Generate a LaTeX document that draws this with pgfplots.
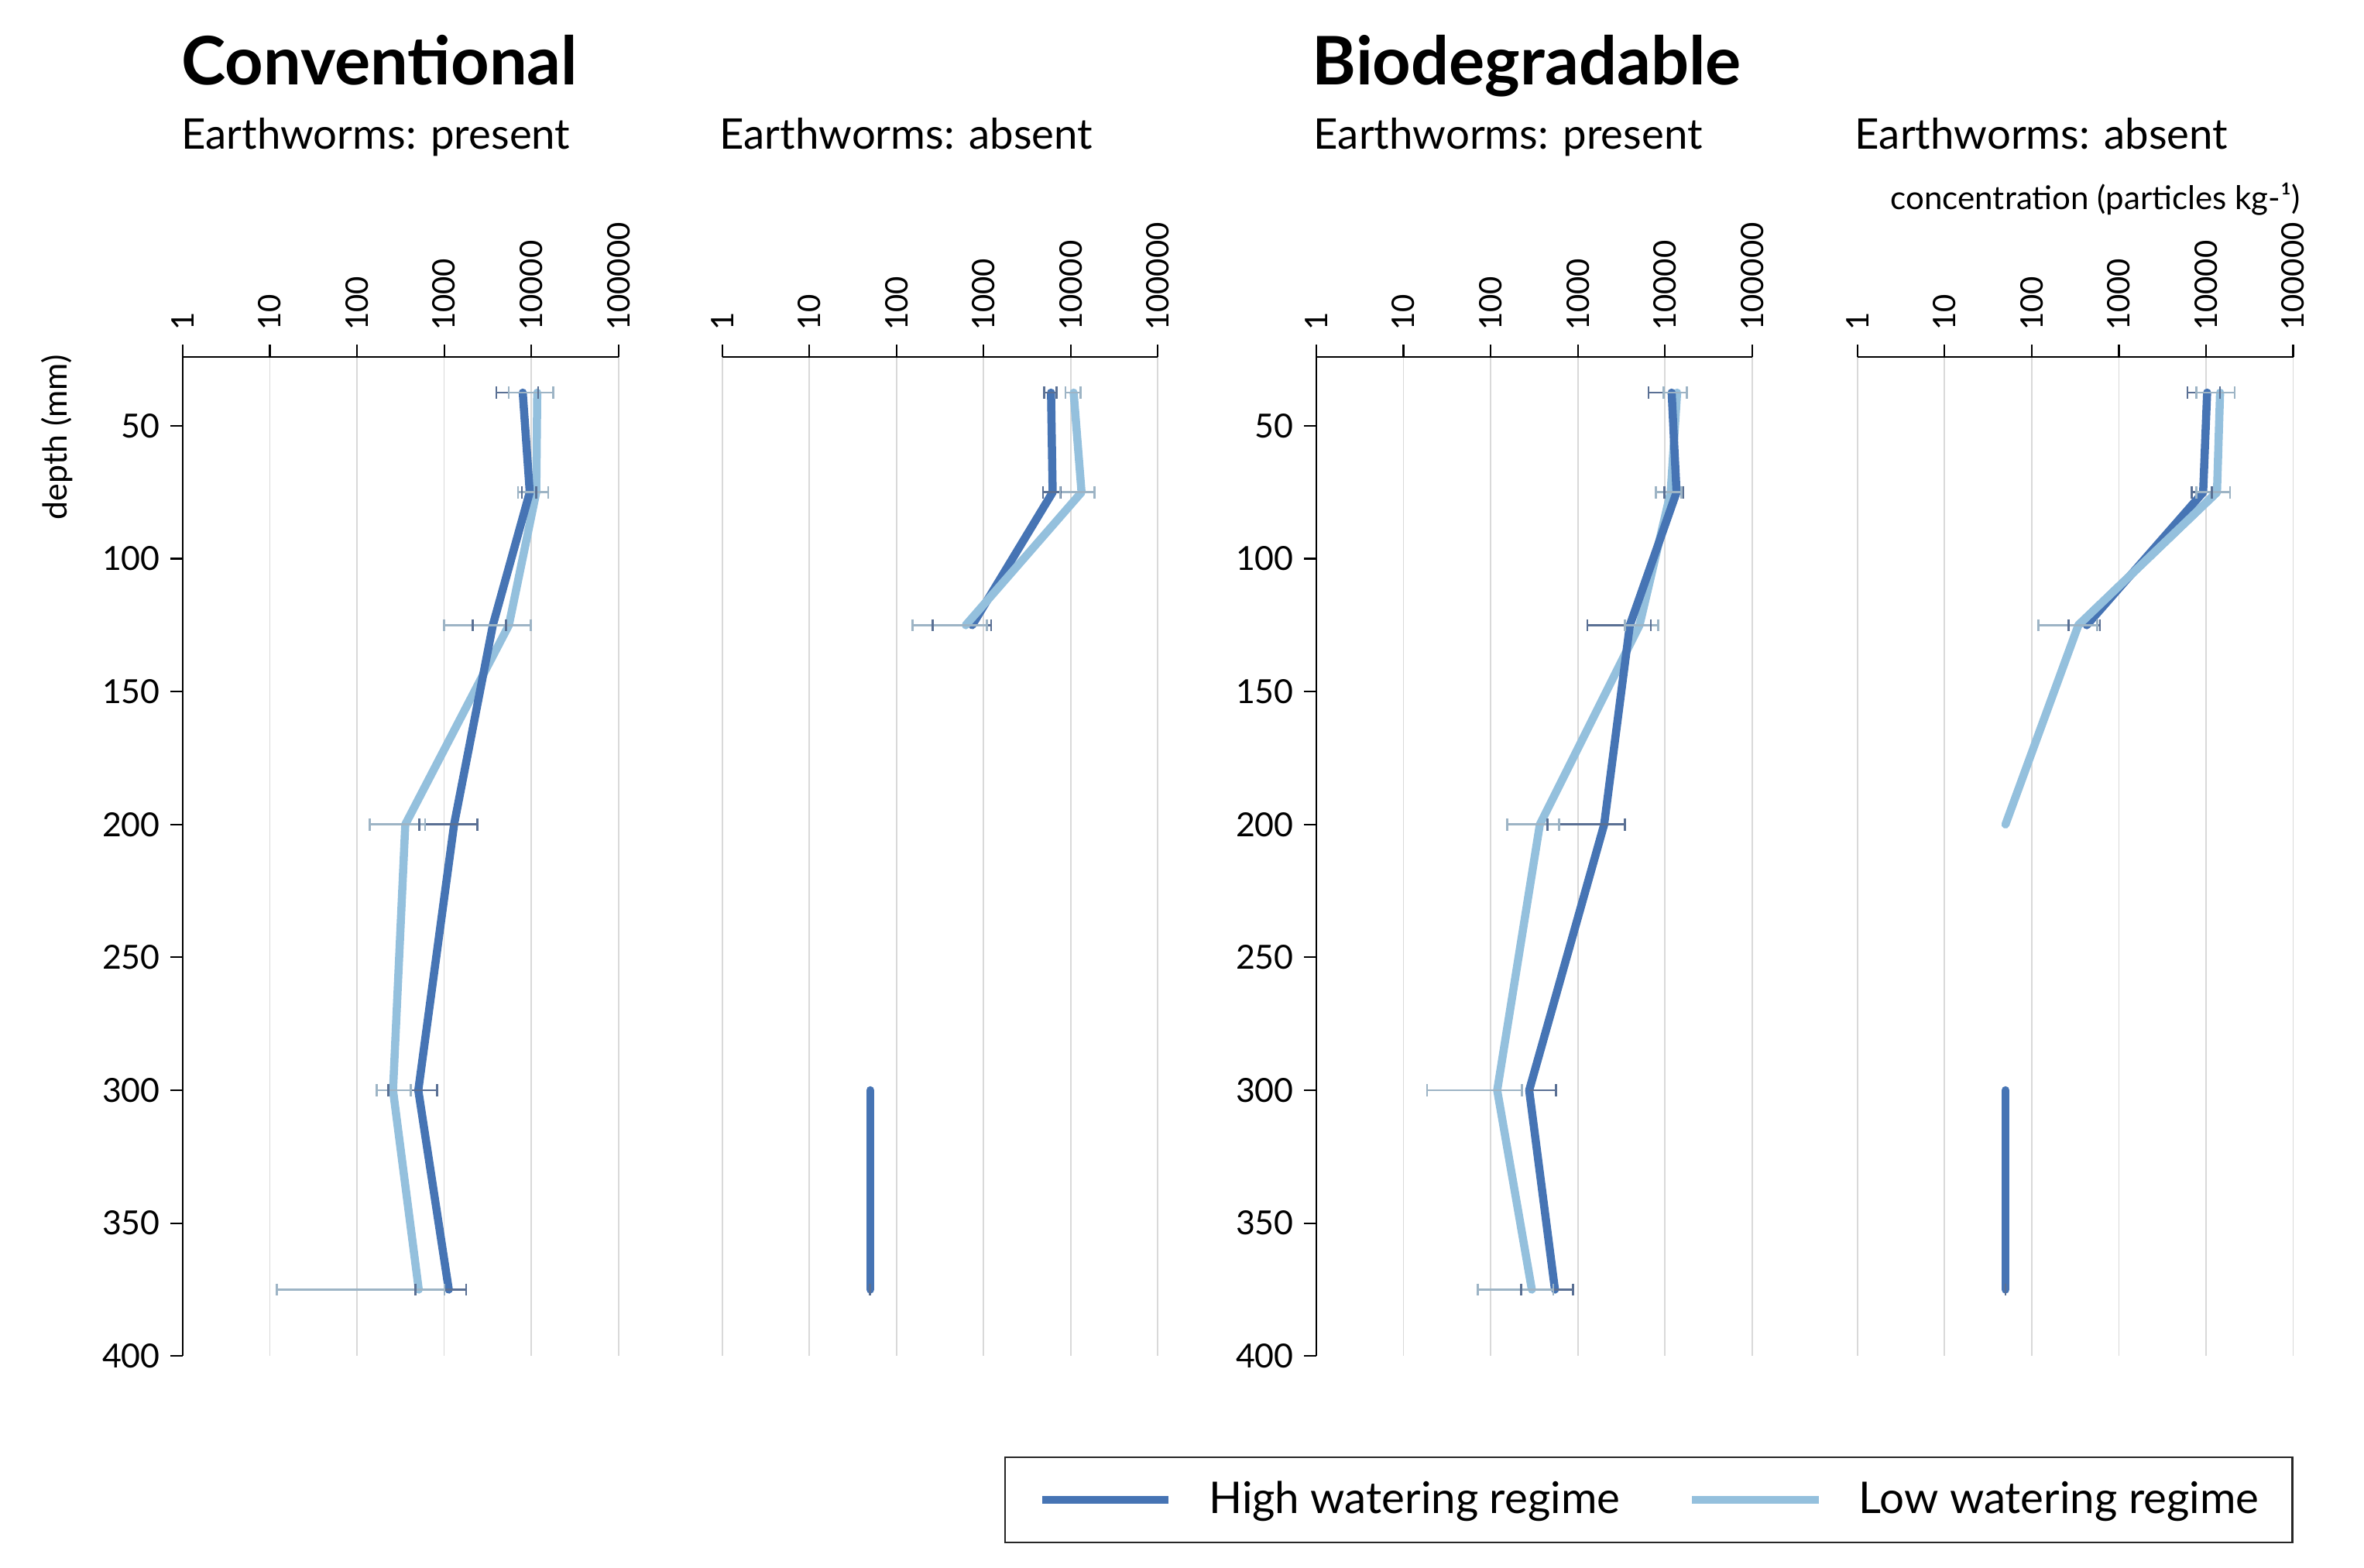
\documentclass[border=0pt]{standalone}
\usepackage{pgfplots}
\pgfplotsset{compat=1.18}
\usepackage{fontspec}
\setmainfont{Lato}
\definecolor{hiC}{RGB}{70,116,180}
\definecolor{loC}{RGB}{148,192,221}
\definecolor{hiE}{RGB}{90,112,148}
\definecolor{loE}{RGB}{157,180,197}
\definecolor{gridC}{RGB}{217,217,217}
\pgfplotsset{
  every axis/.append style={
    scale only axis, width=144.5pt, height=331.4pt,
    xmin=1, xmax=100000, ymin=24, ymax=400, y dir=reverse,
    xtick={1,10,100,1000,10000,100000},
    xticklabels={1,10,100,1000,10000,100000},
    xminorticks=false, yminorticks=false,
    xmajorgrids, major grid style={gridC, line width=0.45pt},
    axis x line*=top,
    tick align=outside, major tick length=4pt,
    every tick/.style={black, line width=0.55pt},
    axis line style={black, line width=0.55pt},
    x tick label style={rotate=90, anchor=west, inner xsep=4.5pt, font=\fontsize{10.3}{12}\selectfont},
    y tick label style={font=\fontsize{11}{12}\selectfont},
    ytick={50,100,150,200,250,300,350,400},
    clip=false,
  },
  hiline/.style={hiC, line width=2.7pt, line cap=round, line join=round, mark=none},
  loline/.style={loC, line width=2.7pt, line cap=round, line join=round, mark=none},
  errhi/.style={hiE, line width=0.7pt, mark=|, mark size=2pt, mark options={solid, line width=0.7pt}, forget plot},
  errlo/.style={loE, line width=0.7pt, mark=|, mark size=2pt, mark options={solid, line width=0.7pt}, forget plot},
}
\begin{document}
\begin{tikzpicture}
\path[use as bounding box] (0,0) rectangle (784pt,-520pt);

% ---------- Panel 1: Conventional, present ----------
\begin{axis}[xmode=log, axis y line*=left, /pgf/number format/assume math mode=true, at={(132.85pt,-284.0pt)}, anchor=center]
\addplot[loline, forget plot] coordinates {(11700,37.5) (11400,75) (5530,125) (358,200) (259,300) (511,375)};
\addplot[hiline, forget plot] coordinates {(7980,37.5) (9600,75) (3620,125) (1300,200) (505,300) (1130,375)};
\addplot[errhi] coordinates {(3970,37.5) (11990,37.5)};
\addplot[errhi] coordinates {(7780,75) (11420,75)};
\addplot[errhi] coordinates {(2120,125) (5120,125)};
\addplot[errhi] coordinates {(520,200) (2400,200)};
\addplot[errhi] coordinates {(228,300) (830,300)};
\addplot[errhi] coordinates {(470,375) (1790,375)};
\addplot[errlo] coordinates {(5500,37.5) (17900,37.5)};
\addplot[errlo] coordinates {(7030,75) (15600,75)};
\addplot[errlo] coordinates {(1000,125) (9890,125)};
\addplot[errlo] coordinates {(140,200) (606,200)};
\addplot[errlo] coordinates {(169,300) (414,300)};
\addplot[errlo] coordinates {(12,375) (1010,375)};
\end{axis}

% ---------- Panel 2: Conventional, absent ----------
\begin{axis}[xmode=log, axis y line=none, ytick=\empty, at={(311.75pt,-284.0pt)}, anchor=center]
\addplot[hiline, forget plot] coordinates {(5940,37.5) (6200,75) (740,125)};
\addplot[hiline, forget plot] coordinates {(50,300) (50,375)};
\addplot[loline, forget plot] coordinates {(10800,37.5) (13300,75) (624,125)};
\addplot[errhi] coordinates {(4930,37.5) (6920,37.5)};
\addplot[errhi] coordinates {(4800,75) (7670,75)};
\addplot[errhi] coordinates {(260,125) (1220,125)};
\addplot[errhi] coordinates {(50,375)};
\addplot[errlo] coordinates {(8720,37.5) (12900,37.5)};
\addplot[errlo] coordinates {(7540,75) (18700,75)};
\addplot[errlo] coordinates {(154,125) (1094,125)};
\end{axis}

% ---------- Panel 3: Biodegradable, present ----------
\begin{axis}[xmode=log, axis y line*=left, /pgf/number format/assume math mode=true, at={(508.8pt,-284.0pt)}, anchor=center]
\addplot[loline, forget plot] coordinates {(13800,37.5) (11650,75) (5110,125) (367,200) (119,300) (297,375)};
\addplot[hiline, forget plot] coordinates {(11950,37.5) (13600,75) (3960,125) (2008,200) (277,300) (547,375)};
\addplot[errhi] coordinates {(6480,37.5) (17800,37.5)};
\addplot[errhi] coordinates {(9900,75) (16100,75)};
\addplot[errhi] coordinates {(1290,125) (6880,125)};
\addplot[errhi] coordinates {(446,200) (3490,200)};
\addplot[errhi, mark=none] coordinates {(277,300) (561,300)};
\addplot[errhi, only marks] coordinates {(561,300)};
\addplot[errhi] coordinates {(224,375) (880,375)};
\addplot[errlo] coordinates {(9670,37.5) (17930,37.5)};
\addplot[errlo] coordinates {(7820,75) (15450,75)};
\addplot[errlo] coordinates {(3490,125) (8370,125)};
\addplot[errlo] coordinates {(154,200) (611,200)};
\addplot[errlo] coordinates {(18.7,300) (230,300)};
\addplot[errlo] coordinates {(71,375) (523,375)};
\end{axis}

% ---------- Panel 4: Biodegradable, absent ----------
\begin{axis}[xmode=log, axis y line=none, ytick=\empty, at={(688.25pt,-284.0pt)}, anchor=center,
  legend columns=2,
  legend image code/.code={\draw[#1, line cap=butt] (0pt,0pt) -- (42pt,0pt);},
  legend style={at={(axis description cs:1,-0.1005)}, anchor=north east,
    draw=black!85, line width=0.6pt, fill=white,
    font=\fontsize{14.5}{16}\selectfont,
    inner xsep=11pt, inner ysep=8pt,
    nodes={inner sep=0pt, anchor=west},
    /tikz/every odd column/.append style={column sep=12pt},
    /tikz/every even column/.append style={column sep=22.5pt}},
]
\addplot[loline, forget plot] coordinates {(14500,37.5) (13360,75) (343,125) (50,200)};
\addplot[hiline, forget plot] coordinates {(10300,37.5) (9270,75) (428,125)};
\addplot[hiline, forget plot] coordinates {(50,300) (50,375)};
\addplot[loline, forget plot] coordinates {(13360,75) (343,125)};
\addplot[errhi] coordinates {(6130,37.5) (14470,37.5)};
\addplot[errhi] coordinates {(6840,75) (11700,75)};
\addplot[errhi] coordinates {(265,125) (605,125)};
\addplot[errhi] coordinates {(50,375)};
\addplot[errlo] coordinates {(7710,37.5) (21300,37.5)};
\addplot[errlo] coordinates {(7800,75) (18900,75)};
\addplot[errlo] coordinates {(119,125) (567,125)};
\addlegendimage{hiline}
\addlegendentry{High watering regime}
\addlegendimage{loline}
\addlegendentry{Low watering regime}
\end{axis}

% ---------- Titles ----------
\node[anchor=base west, inner sep=0pt, font=\fontsize{22.2}{26}\selectfont\bfseries] at (60pt,-28pt) {Conventional};
\node[anchor=base west, inner sep=0pt, font=\fontsize{22.2}{26}\selectfont\bfseries] at (435pt,-28pt) {Biodegradable};
\node[anchor=base west, inner sep=0pt, font=\fontsize{14}{16}\selectfont] at (60pt,-49.5pt) {Earthworms: present};
\node[anchor=base west, inner sep=0pt, font=\fontsize{14}{16}\selectfont] at (238.5pt,-49.5pt) {Earthworms: absent};
\node[anchor=base west, inner sep=0pt, font=\fontsize{14}{16}\selectfont] at (435.5pt,-49.5pt) {Earthworms: present};
\node[anchor=base west, inner sep=0pt, font=\fontsize{14}{16}\selectfont] at (615pt,-49.5pt) {Earthworms: absent};
\node[anchor=base east, inner sep=0pt, font=\fontsize{10.8}{12}\selectfont] at (763pt,-69.5pt) {concentration (particles kg-¹)};
\node[rotate=90, inner sep=0pt, font=\fontsize{11}{12}\selectfont] at (19pt,-145pt) {depth (mm)};
\end{tikzpicture}
\end{document}
